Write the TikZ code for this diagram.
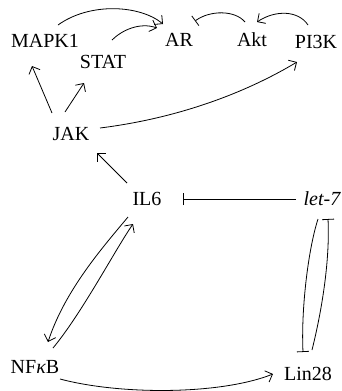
\documentclass[tikz,border=0pt]{standalone}
\usepackage{fontspec}
\setmainfont{Liberation Serif}
\usetikzlibrary{arrows.meta,calc}
\begin{document}
\begin{tikzpicture}[x=1pt,y=-1pt,
  lbl/.style={anchor=base,inner sep=0pt,font=\fontsize{20}{24}\selectfont},
  act/.style={line width=0.8pt,-{Straight Barb[length=6pt,width=12pt,line width=0.8pt]}},
  inh/.style={line width=0.8pt,-{Bar[width=12pt,line width=0.8pt]}}]
\useasboundingbox (0,0) rectangle (342,391);
\node[lbl] (mapk) at (45,47) {MAPK1};
\node[lbl] (stat) at (103,68) {STAT};
\node[lbl] (ar) at (179,46) {AR};
\node[lbl] (akt) at (252,46) {Akt};
\node[lbl] (pi3k) at (316,48) {PI3K};
\node[lbl] (jak) at (71,140) {JAK};
\node[lbl] (il6) at (147,205) {IL6};
\node[lbl] (let7) at (322,205) {\itshape let-7};
\node[lbl] (nfkb) at (35,373) {NF{\itshape κ}B};
\node[lbl] (lin28) at (308,380) {Lin28};

\draw[act] ($(mapk.base)+(13,-22)$) .. controls +(32,-23) and +(-23,-19) .. ($(ar.base)+(-16,-22)$);
\draw[act] ($(stat.base)+(9,-28)$) .. controls +(10,-10) and +(-17,-6) .. ($(ar.base)+(-22,-18)$);
\draw[inh] ($(akt.base)+(-7,-24)$) .. controls +(-10,-12) and +(15,-11) .. ($(ar.base)+(16,-25)$);
\draw[act] ($(pi3k.base)+(-8,-23)$) .. controls +(-10,-15) and +(18,-12) .. ($(akt.base)+(5,-24)$);
\draw[act] ($(jak.base)+(-19,-27)$) -- ($(mapk.base)+(-13,19)$);
\draw[act] ($(jak.base)+(-6,-28)$) -- ($(stat.base)+(-19,15)$);
\draw[act] ($(jak.base)+(29,-12)$) .. controls +(80,-10) and +(-50,30) .. ($(pi3k.base)+(-19,14)$);
\draw[act] ($(il6.base)+(-20,-22)$) -- ($(jak.base)+(26,13)$);
\draw[inh] ($(let7.base)+(-26,-6)$) -- ($(il6.base)+(36,-6)$);
\draw[act] ($(il6.base)+(-19,12)$) .. controls +(-25,30) and +(17,-52) .. ($(nfkb.base)+(13,-31)$);
\draw[act] ($(nfkb.base)+(18,-25)$) .. controls +(29,-35) and +(-18,26) .. ($(il6.base)+(-14,19)$);
\draw[inh] ($(let7.base)+(-4,14)$) .. controls +(-10,31) and +(-2,-42) .. ($(lin28.base)+(-5,-28)$);
\draw[inh] ($(lin28.base)+(4,-30)$) .. controls +(10,-40) and +(2,41) .. ($(let7.base)+(6,14)$);
\draw[act] ($(nfkb.base)+(25,6)$) .. controls +(60,16) and +(-53,21) .. ($(lin28.base)+(-35,-6)$);
\end{tikzpicture}
\end{document}
